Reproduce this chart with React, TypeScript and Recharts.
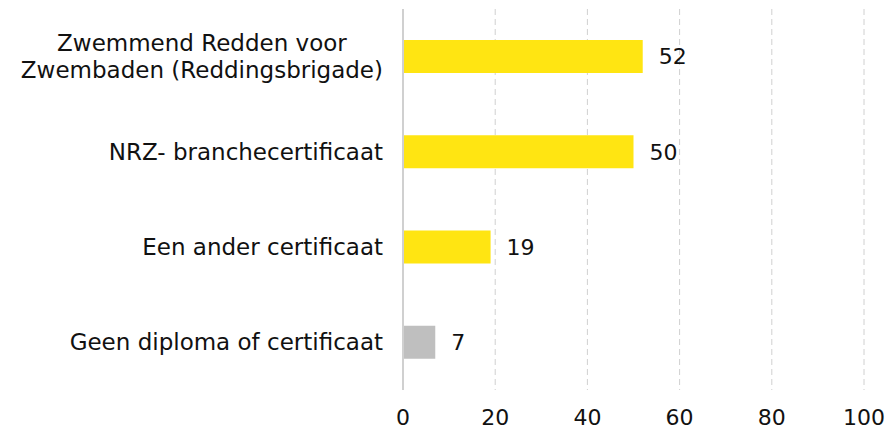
import { BarChart, Bar, XAxis, YAxis, CartesianGrid, LabelList, Cell } from 'recharts'

const categories = [
  'Zwemmend Redden voor\nZwembaden (Reddingsbrigade)',
  'NRZ- branchecertificaat',
  'Een ander certificaat',
  'Geen diploma of certificaat',
]
const values = [52, 50, 19, 7]
const barColors = ['#ffe512', '#ffe512', '#ffe512', '#bfbfbf']
const xTicks = [0, 20, 40, 60, 80, 100]

const data = categories.map((name, i) => ({ name, value: values[i] }))

const font = '"DejaVu Sans", Verdana, sans-serif'
const labelSize = 23

// measure text so wrapped labels can be centred on their widest line
let ctx: CanvasRenderingContext2D | null = null
const measure = (s: string) => {
  if (!ctx) ctx = document.createElement('canvas').getContext('2d')
  if (!ctx) return s.length * labelSize * 0.6
  ctx.font = `${labelSize}px "DejaVu Sans"`
  return ctx.measureText(s).width
}

const CategoryTick = (props: any) => {
  const { x, y, payload } = props
  const lines = String(payload.value).split('\n')
  const lh = 27
  const start = y - ((lines.length - 1) * lh) / 2
  const multi = lines.length > 1
  const w = multi ? Math.max(...lines.map(measure)) : 0
  const cx = multi ? x - w / 2 : x
  return (
    <text
      x={cx}
      y={start}
      textAnchor={multi ? 'middle' : 'end'}
      fill='#111'
      fontSize={labelSize}
      fontFamily={font}
    >
      {lines.map((l, i) => (
        <tspan key={i} x={cx} y={start + i * lh} dy='0.35em'>
          {l}
        </tspan>
      ))}
    </text>
  )
}

export default function App() {
  return (
    <div style={{ position: 'absolute', left: 0, top: 0, background: '#fff' }}>
      <BarChart
        width={889}
        height={433}
        data={data}
        layout='vertical'
        margin={{ top: 9, right: 25, bottom: 0, left: 0 }}
      >
        <CartesianGrid
          horizontal={false}
          stroke='#d0d0d0'
          strokeDasharray='6 4'
          verticalCoordinatesGenerator={({ offset }: any) =>
            [20, 40, 60, 80, 100].map((v) => offset.left + (v / 100) * offset.width)
          }
        />
        <XAxis
          type='number'
          domain={[0, 100]}
          ticks={xTicks}
          axisLine={false}
          tickLine={false}
          height={43}
          tickMargin={13}
          tick={{ fill: '#111', fontSize: 22, fontFamily: font }}
        />
        <YAxis
          type='category'
          dataKey='name'
          width={403}
          axisLine={{ stroke: '#d0d0d0', strokeWidth: 2 }}
          tickLine={false}
          tickMargin={14}
          tick={<CategoryTick />}
        />
        <Bar dataKey='value' barSize={33} isAnimationActive={false}>
          {data.map((d, i) => (
            <Cell key={d.name} fill={barColors[i]} />
          ))}
          <LabelList
            dataKey='value'
            position='right'
            offset={16}
            fill='#111'
            fontSize={22}
            fontFamily={font}
          />
        </Bar>
      </BarChart>
    </div>
  )
}
